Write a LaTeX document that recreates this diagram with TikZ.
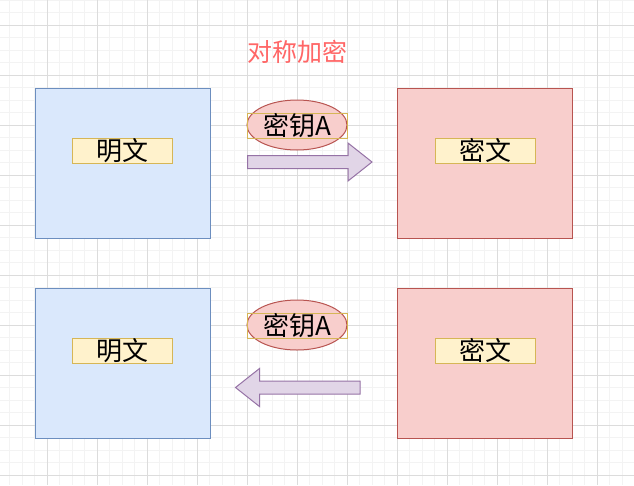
\documentclass[tikz,border=0pt]{standalone}
\usepackage{fontspec}
\setmainfont{Noto Sans CJK SC}
\usetikzlibrary{shapes.geometric}
\definecolor{plainFill}{HTML}{DAE8FC}
\definecolor{plainDraw}{HTML}{6C8EBF}
\definecolor{cipherFill}{HTML}{F8CECC}
\definecolor{cipherDraw}{HTML}{B85450}
\definecolor{labelFill}{HTML}{FFF2CC}
\definecolor{labelDraw}{HTML}{D6B656}
\definecolor{arrowFill}{HTML}{E1D5E7}
\definecolor{arrowDraw}{HTML}{9673A6}
\definecolor{titleRed}{HTML}{FF6666}
\definecolor{gridMinor}{HTML}{F3F3F3}
\definecolor{gridMajor}{HTML}{DCDCDC}
\begin{document}
\begin{tikzpicture}[x=1pt, y=-1pt,
  panel/.style={rectangle, line width=1pt, minimum width=175pt, minimum height=150pt, inner sep=0pt},
  plainbox/.style={panel, draw=plainDraw, fill=plainFill},
  cipherbox/.style={panel, draw=cipherDraw, fill=cipherFill},
  tag/.style={rectangle, line width=1pt, draw=labelDraw, minimum width=100pt, minimum height=25pt, inner sep=0pt, font=\fontsize{26}{30}\selectfont},
  keyoval/.style={ellipse, line width=1pt, draw=cipherDraw, fill=cipherFill, minimum width=100pt, minimum height=50pt, inner sep=0pt},
  arrowshape/.style={line width=1pt, draw=arrowDraw, fill=arrowFill, line join=miter},
]
\useasboundingbox (0,0) rectangle (634,485);
\fill[white] (0,0) rectangle (634,485);
% grid
\foreach \i in {0,...,51} \draw[gridMinor, line width=0.8pt] (-3+12.5*\i,0) -- (-3+12.5*\i,485);
\foreach \j in {0,...,39} \draw[gridMinor, line width=0.8pt] (0,12.5*\j) -- (634,12.5*\j);
\foreach \i in {0,...,12} \draw[gridMajor, line width=0.8pt] (-3+50*\i,0) -- (-3+50*\i,485);
\foreach \j in {0,...,9} \draw[gridMajor, line width=0.8pt] (0,25+50*\j) -- (634,25+50*\j);

\node[text=titleRed, font=\fontsize{25}{30}\selectfont] (title) at (297,52) {对称加密};

% encrypt
\node[plainbox] (plainA) at (122.5,163) {};
\node[cipherbox] (cipherA) at (485,163) {};
\node[tag, fill=labelFill] (plainTagA) at (122.5,150.5) {明文};
\node[tag, fill=labelFill] (cipherTagA) at (485,150.5) {密文};
\node[keyoval] (keyA) at (297,125) {};
\node[tag] (keyTagA) at (297,125.5) {密钥A};
\draw[arrowshape] (247.5,155.5) -- (348,155.5) -- (348,143) -- (372,162) -- (348,181) -- (348,168.5) -- (247.5,168.5) -- cycle;

% decrypt
\node[plainbox] (plainB) at (122.5,363) {};
\node[cipherbox] (cipherB) at (485,363) {};
\node[tag, fill=labelFill] (plainTagB) at (122.5,350.5) {明文};
\node[tag, fill=labelFill] (cipherTagB) at (485,350.5) {密文};
\node[keyoval] (keyB) at (297,325) {};
\node[tag] (keyTagB) at (297,325.5) {密钥A};
\draw[arrowshape] (360,381) -- (259.5,381) -- (259.5,368.5) -- (235.5,387.5) -- (259.5,406.5) -- (259.5,394) -- (360,394) -- cycle;
\end{tikzpicture}
\end{document}
